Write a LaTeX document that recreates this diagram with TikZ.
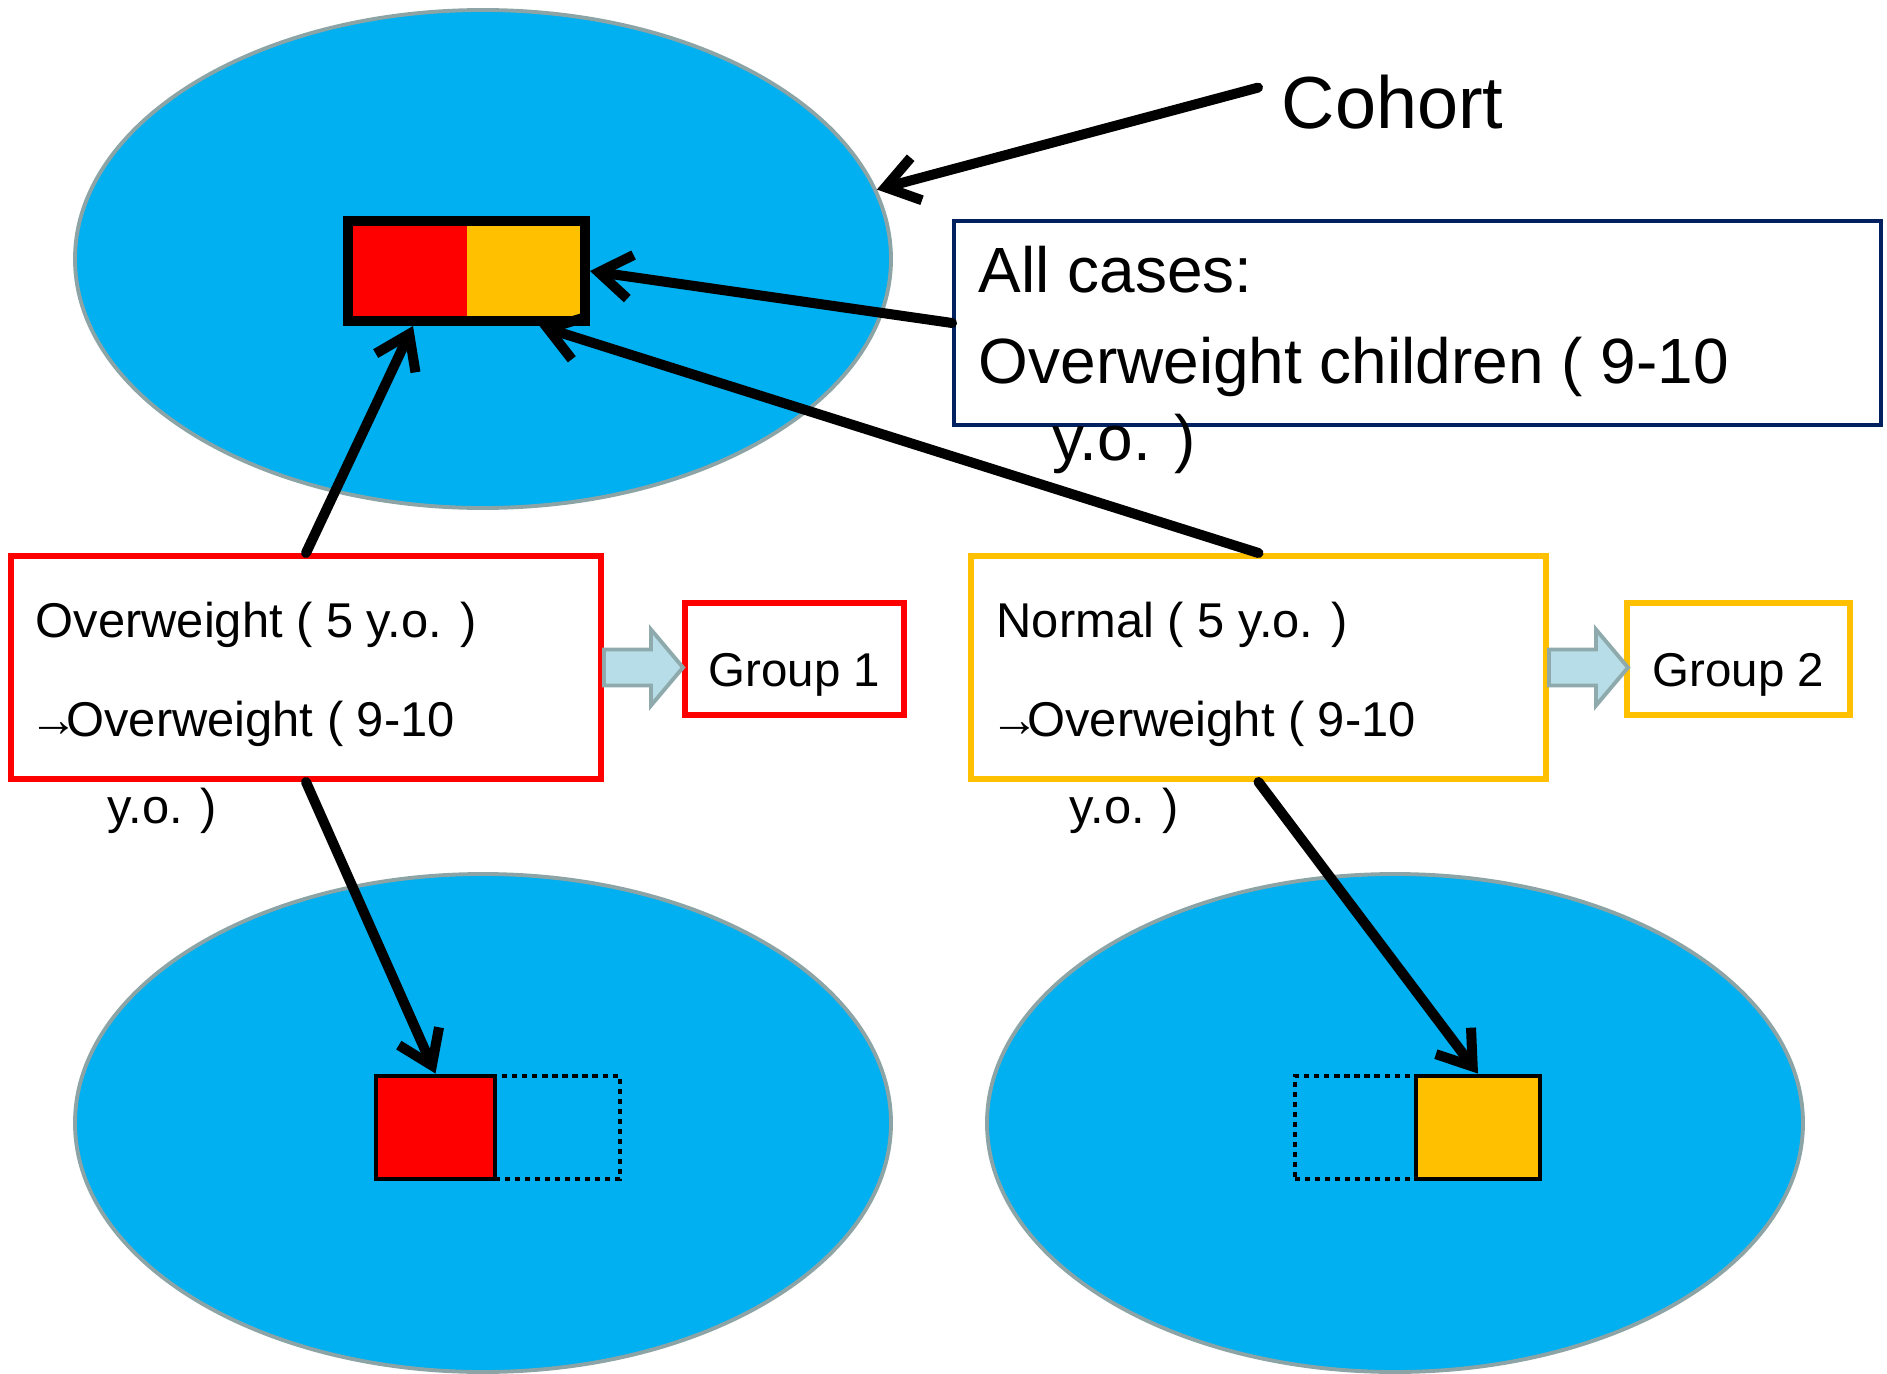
\documentclass[tikz,border=0pt]{standalone}
\usepackage{fontspec}
\setmainfont{Liberation Sans}
\usetikzlibrary{arrows.meta,calc,shapes.geometric}
\definecolor{skyfill}{HTML}{00B0F0}
\definecolor{rimgray}{HTML}{8DA4A6}
\definecolor{ptred}{HTML}{FF0000}
\definecolor{ptgold}{HTML}{FFC000}
\definecolor{ptnavy}{HTML}{002060}
\definecolor{blkfill}{HTML}{B7DEE8}
\definecolor{blkedge}{HTML}{8FAAAC}
\newcommand{\thenarrow}{\kern-0.12em→\kern-0.25em}

\begin{document}
\begin{tikzpicture}[
  pop/.style={ellipse,draw=rimgray,fill=skyfill,line width=1.1pt,
    minimum width=8.16cm,minimum height=4.98cm,inner sep=0pt},
  bar/.style={draw=black,line width=2.85pt,inner sep=0pt,
    minimum width=2.37cm,minimum height=1.0cm,
    path picture={
      \fill[ptred] (path picture bounding box.south west) rectangle (path picture bounding box.north);
      \fill[ptgold] (path picture bounding box.south) rectangle (path picture bounding box.north east);}},
  cell/.style={draw=black,line width=1.4pt,inner sep=0pt,minimum height=1.03cm},
  ghost/.style={cell,dash pattern=on 1.45pt off 1.4pt},
  casebox/.style={draw,fill=white,line width=1.7pt,inner sep=0pt},
  grpbox/.style={casebox,minimum height=1.12cm},
  boxtext/.style={anchor=base west,inner sep=0pt,align=left,
    font=\fontsize{13.9}{28.2}\selectfont},
  grptext/.style={anchor=base,inner sep=0pt,font=\fontsize{13.5}{16}\selectfont},
  blockarr/.style={draw=blkedge,fill=blkfill,line width=1.1pt,line join=miter},
  link/.style={-{Straight Barb[length=3.2mm,width=4.4mm]},line width=2.85pt,
    line cap=round,line join=round}]
\useasboundingbox (0,0) rectangle (18.87,-13.74);

% populations
\node[pop] (cohort) at (4.83,-2.59) {};
\node[pop] (pop1) at (4.83,-11.23) {};
\node[pop] (pop2) at (13.95,-11.23) {};

% cases inside the populations
\node[bar] (casebar) at (4.665,-2.71) {};
\node[ghost,minimum width=1.25cm] (miss1) at (5.575,-11.275) {};
\node[cell,fill=ptred,minimum width=1.19cm] (hit1) at (4.355,-11.275) {};
\node[ghost,minimum width=1.21cm] (miss2) at (13.555,-11.275) {};
\node[cell,fill=ptgold,minimum width=1.24cm] (hit2) at (14.78,-11.275) {};

% boxes
\node[casebox,draw=ptnavy,line width=1.1pt,minimum width=9.27cm,minimum height=2.04cm] (allbox) at (14.175,-3.23) {};
\node[casebox,draw=ptred,minimum width=5.9cm,minimum height=2.23cm] (ow) at (3.06,-6.675) {};
\node[casebox,draw=ptgold,minimum width=5.75cm,minimum height=2.23cm] (nw) at (12.585,-6.675) {};
\node[grpbox,draw=ptred,minimum width=2.19cm] (grp1) at (7.945,-6.59) {};
\node[grpbox,draw=ptgold,minimum width=2.23cm] (grp2) at (17.385,-6.59) {};

% block arrows to the groups
\draw[blockarr] ([yshift=1.8mm]ow.east) -- ++(4.7mm,0) -- ++(0,2mm) -- ++(3.2mm,-3.8mm)
  -- ++(-3.2mm,-3.8mm) -- ++(0,2mm) -- ++(-4.7mm,0) -- cycle;
\draw[blockarr] ([yshift=1.8mm]nw.east) -- ++(4.7mm,0) -- ++(0,2mm) -- ++(3.2mm,-3.8mm)
  -- ++(-3.2mm,-3.8mm) -- ++(0,2mm) -- ++(-4.7mm,0) -- cycle;

% texts (base = last line)
\node[anchor=base west,inner sep=0pt,inner xsep=2.3mm,font=\fontsize{21}{25}\selectfont] (cohortlbl) at (12.58,-1.28) {Cohort};
\node[boxtext,font=\fontsize{18.2}{25.9}\selectfont] (alltxt) at (9.78,-4.60)
  {All cases:\\Overweight children ( 9-10\\[-4pt]\hspace*{7.4mm}y.o. )};
\node[boxtext] (owtxt) at (0.35,-8.23)
  {Overweight ( 5 y.o. )\\\thenarrow Overweight ( 9-10\\[-3.7pt]\hspace*{7.2mm}y.o. )};
\node[boxtext] (nwtxt) at (9.96,-8.23)
  {Normal ( 5 y.o. )\\\thenarrow Overweight ( 9-10\\[-3.7pt]\hspace*{7.3mm}y.o. )};
\node[grptext] (grp1txt) at ([yshift=-2.7mm]grp1.center) {Group 1};
\node[grptext] (grp2txt) at ([yshift=-2.7mm]grp2.center) {Group 2};

% arrows
\draw[link] ([yshift=1.4mm]cohortlbl.west) -- (cohort.10);
\draw[link] (allbox.west) -- (casebar.east);
\draw[link] (ow.north) -- ([xshift=-5.35mm]casebar.south);
\draw[link] (nw.north) -- ([xshift=7.3mm]casebar.south);
\draw[link] (ow.south) -- (hit1.north);
\draw[link] (nw.south) -- (hit2.north);
\end{tikzpicture}
\end{document}
